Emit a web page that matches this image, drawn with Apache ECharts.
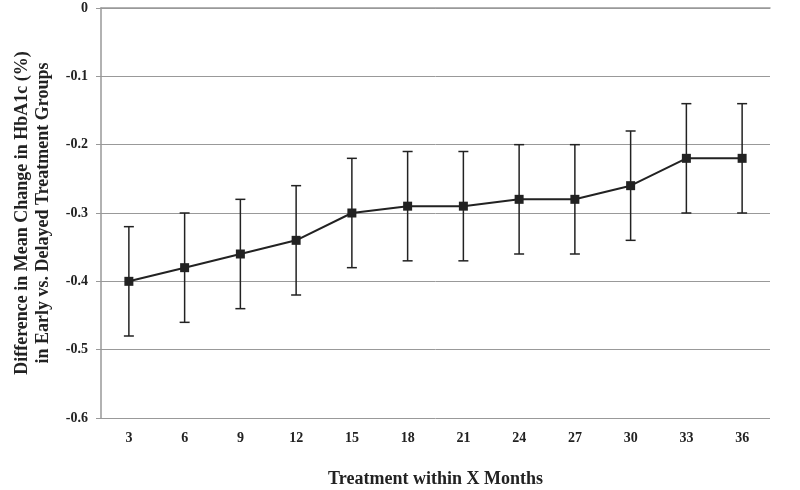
<!DOCTYPE html>
<html><head><meta charset="utf-8">
<script src="https://cdn.jsdelivr.net/npm/echarts@6/dist/echarts.min.js"></script>
<style>html,body{margin:0;padding:0;background:#fff}#c{width:800px;height:490px}</style>
</head><body><div id="c"></div>
<script>
const categories = ['3','6','9','12','15','18','21','24','27','30','33','36'];
const means = [-0.40,-0.38,-0.36,-0.34,-0.30,-0.29,-0.29,-0.28,-0.28,-0.26,-0.22,-0.22];
const lower = [-0.48,-0.46,-0.44,-0.42,-0.38,-0.37,-0.37,-0.36,-0.36,-0.34,-0.30,-0.30];
const upper = [-0.32,-0.30,-0.28,-0.26,-0.22,-0.21,-0.21,-0.20,-0.20,-0.18,-0.14,-0.14];

const chart = echarts.init(document.getElementById('c'));
const font = '"Liberation Serif","Times New Roman",serif';
chart.setOption({
  animation:false,
  grid:{left:101,right:30,top:8,bottom:72,outerBoundsMode:'none',containLabel:false},
  xAxis:{type:'category',data:categories,
    axisLine:{lineStyle:{color:'#999',width:1.5}},axisTick:{show:false},
    axisLabel:{fontFamily:font,fontWeight:'bold',fontSize:14,color:'#222',margin:13},
    name:'Treatment within X Months',nameLocation:'middle',nameGap:52,
    nameTextStyle:{fontFamily:font,fontWeight:'bold',fontSize:18,color:'#222'}},
  yAxis:{type:'value',min:-0.6,max:0,interval:0.1,
    axisLine:{show:true,lineStyle:{color:'#999',width:1.5}},
    axisTick:{show:true,length:5,lineStyle:{color:'#999'}},
    splitLine:{lineStyle:{color:'#999',width:1}},
    axisLabel:{fontFamily:font,fontWeight:'bold',fontSize:14,color:'#222',margin:13,
      formatter:v=>v===0?'0':String(Math.round(v*10)/10)},
    name:'Difference in Mean Change in HbA1c (%)\nin Early vs. Delayed Treatment Groups',
    nameLocation:'middle',nameGap:47,
    nameTextStyle:{fontFamily:font,fontWeight:'bold',fontSize:18,color:'#222',lineHeight:21}},
  series:[
    {type:'custom',data:categories.map((c,i)=>[i,lower[i],upper[i]]),z:3,
      renderItem:(params,api)=>{
        const lo=api.coord([api.value(0),api.value(1)]);
        const hi=api.coord([api.value(0),api.value(2)]);
        const w=5;
        const st={stroke:'#222',lineWidth:1.5};
        return {type:'group',children:[
          {type:'line',shape:{x1:lo[0],y1:lo[1],x2:hi[0],y2:hi[1]},style:st},
          {type:'line',shape:{x1:lo[0]-w,y1:lo[1],x2:lo[0]+w,y2:lo[1]},style:st},
          {type:'line',shape:{x1:hi[0]-w,y1:hi[1],x2:hi[0]+w,y2:hi[1]},style:st}
        ]};
      }},
    {type:'line',data:means,symbol:'rect',symbolSize:9,z:4,
      lineStyle:{color:'#222',width:2},itemStyle:{color:'#222'}}
  ]
});
</script></body></html>
